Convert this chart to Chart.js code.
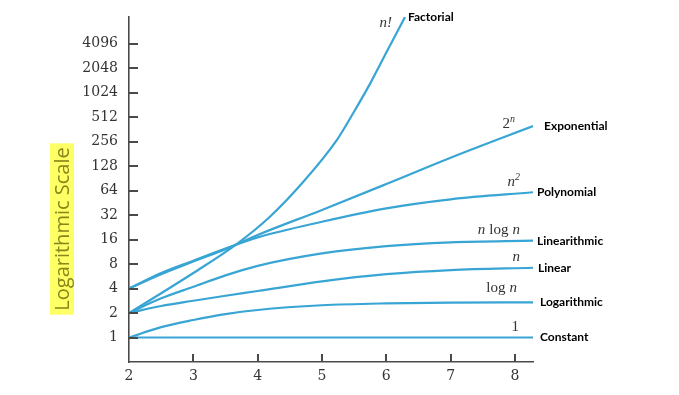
<!DOCTYPE html>
<html>
<head>
<meta charset="utf-8">
<script src="https://cdn.jsdelivr.net/npm/chart.js@4"></script>
<style>
  html, body { margin: 0; padding: 0; background: #fff; }
  #wrap { width: 679px; height: 395px; }
</style>
</head>
<body>
<div id="wrap"><canvas id="growthChart" width="679" height="395"></canvas></div>
<script>
// values (y is on a log2 scale)
var nValues = [2, 2.5, 3, 3.5, 4, 5, 6, 7, 8.28];
var constantValues = [1, 1, 1, 1, 1, 1, 1, 1, 1];
var logValues = [1, 1.34, 1.64, 1.94, 2.18, 2.49, 2.63, 2.69, 2.71];
var linearValues = [2, 2.44, 2.83, 3.26, 3.73, 4.9, 6.0, 6.75, 7.2];
var nlognValues = [2, 3.03, 4.2, 5.8, 7.6, 10.8, 13.3, 14.8, 15.5];
var squareValues = [4, 6.2, 8.8, 12.4, 17, 26.5, 38.7, 50, 61];
var expValues = [4, 6.0, 8.6, 12.2, 18.2, 37, 77, 162, 397];

var factN = [2, 2.5, 3, 3.7, 4.19, 4.71, 5.23, 5.5, 5.75, 6.01, 6.29];
var factValues = [2, 3.5, 6.2, 14.6, 30.5, 82, 267, 600, 1330, 3300, 8700];

var xTicks = [2, 3, 4, 5, 6, 7, 8];
var yTicks = [1, 2, 4, 8, 16, 32, 64, 128, 256, 512, 1024, 2048, 4096];

var mathLabels = ["1", "log n", "n", "n log n", "n^2", "2^n", "n!"];
var classLabels = ["Constant", "Logarithmic", "Linear", "Linearithmic", "Polynomial", "Exponential", "Factorial"];
var axisTitle = "Logarithmic Scale";

function pts(xs, ys) {
  return xs.map(function (x, i) { return { x: x, y: ys[i] }; });
}

var lineColor = "#38a5d4";
var axisColor = "#4a4a4a";
var series = [
  pts(nValues, constantValues),
  pts(nValues, logValues),
  pts(nValues, linearValues),
  pts(nValues, nlognValues),
  pts(nValues, squareValues),
  pts(nValues, expValues),
  pts(factN, factValues)
];

// label placement relative to each curve's end point
var mathOffset = [[-14, -10], [-16, -14], [-13, -11], [-13, -11], [-13, -10], [-18, -2], [-13, 6]];
var classOffset = [[7, 0], [7, 0], [5, 0], [4, 0], [4, 0], [11, 0], [3, 0]];

// small ticks drawn inside the plot area
var tickPlugin = {
  id: "innerTicks",
  afterDraw: function (chart) {
    var ctx = chart.ctx;
    var sx = chart.scales.x, sy = chart.scales.y;
    var left = sx.left, bottom = sy.bottom;
    ctx.save();
    ctx.strokeStyle = axisColor;
    ctx.lineWidth = 2;
    for (var i = 0; i < yTicks.length; i++) {
      var py = Math.round(sy.getPixelForValue(yTicks[i]));
      ctx.beginPath();
      ctx.moveTo(left, py);
      ctx.lineTo(left + 9, py);
      ctx.stroke();
    }
    for (var j = 1; j < xTicks.length; j++) {
      var px = Math.round(sx.getPixelForValue(xTicks[j]));
      ctx.beginPath();
      ctx.moveTo(px, bottom);
      ctx.lineTo(px, bottom - 8);
      ctx.stroke();
    }
    ctx.restore();
  }
};

var labelPlugin = {
  id: "curveLabels",
  afterDraw: function (chart) {
    var ctx = chart.ctx;
    ctx.save();
    series.forEach(function (s, i) {
      var meta = chart.getDatasetMeta(i);
      var end = meta.data[meta.data.length - 1];
      var mx = end.x + mathOffset[i][0], my = end.y + mathOffset[i][1];
      var txt = mathLabels[i];
      ctx.fillStyle = "#333";
      ctx.textBaseline = "middle";
      ctx.textAlign = "right";
      if (txt.indexOf("^") > 0) {
        var parts = txt.split("^");
        ctx.font = "italic 10px 'Liberation Serif'";
        var sw = ctx.measureText(parts[1]).width;
        ctx.fillText(parts[1], mx, my - 5);
        ctx.font = (parts[0] === "n" ? "italic " : "") + "15px 'Liberation Serif'";
        ctx.fillText(parts[0], mx - sw, my);
      } else {
        var words = txt.split(" ");
        var tx = mx;
        for (var k = words.length - 1; k >= 0; k--) {
          var w0 = words[k];
          ctx.font = (w0 === "log" || w0 === "1" ? "" : "italic ") + "15px 'Liberation Serif'";
          ctx.fillText(w0, tx, my);
          tx -= ctx.measureText(w0).width + 4;
        }
      }
      ctx.textAlign = "left";
      ctx.font = "bold 12px Lato";
      ctx.fillStyle = "#000";
      ctx.fillText(classLabels[i], end.x + classOffset[i][0], end.y + classOffset[i][1]);
    });

    // rotated axis title on yellow
    ctx.translate(62, 229);
    ctx.rotate(-Math.PI / 2);
    ctx.font = "20px 'Open Sans'";
    var w = ctx.measureText(axisTitle).width;
    ctx.fillStyle = "#ffff66";
    ctx.fillRect(-w / 2 - 4, -12, w + 8, 24);
    ctx.fillStyle = "#8a861a";
    ctx.textAlign = "center";
    ctx.textBaseline = "middle";
    ctx.fillText(axisTitle, 0, 1);
    ctx.restore();
  }
};

var chart = new Chart(document.getElementById("growthChart"), {
  type: "line",
  data: {
    datasets: series.map(function (s, i) {
      return {
        label: classLabels[i],
        data: s,
        borderColor: lineColor,
        borderWidth: 2.2,
        pointRadius: 0,
        fill: false,
        cubicInterpolationMode: "monotone"
      };
    })
  },
  options: {
    responsive: false,
    animation: false,
    layout: { padding: { top: 17, right: 146, left: 0, bottom: 0 } },
    plugins: { legend: { display: false }, tooltip: { enabled: false } },
    scales: {
      x: {
        type: "linear",
        min: 2,
        max: 8.28,
        afterBuildTicks: function (scale) {
          scale.ticks = xTicks.map(function (v) { return { value: v }; });
        },
        afterFit: function (scale) {
          scale.height = 33;
          scale.paddingLeft = 0;
          scale.paddingRight = 0;
        },
        grid: { drawOnChartArea: false, drawTicks: false },
        border: { color: axisColor, width: 1.6 },
        ticks: {
          padding: 6,
          color: "#333",
          font: { family: "'DejaVu Serif'", size: 14 },
          callback: function (v) { return String(v); }
        }
      },
      y: {
        type: "logarithmic",
        min: 0.5,
        max: 8700,
        afterBuildTicks: function (scale) {
          scale.ticks = yTicks.map(function (v) { return { value: v }; });
        },
        afterFit: function (scale) {
          scale.width = 129;
          scale.paddingTop = 0;
          scale.paddingBottom = 0;
        },
        grid: { drawOnChartArea: false, drawTicks: false },
        border: { color: axisColor, width: 1.6 },
        ticks: {
          padding: 11,
          color: "#333",
          font: { family: "'DejaVu Serif'", size: 14 },
          callback: function (v) { return String(v); }
        }
      }
    }
  },
  plugins: [tickPlugin, labelPlugin]
});
</script>
</body>
</html>
